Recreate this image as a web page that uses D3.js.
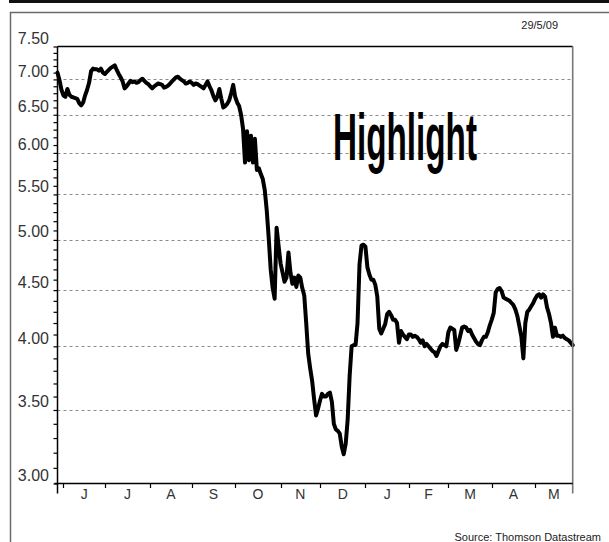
<!DOCTYPE html>
<html>
<head>
<meta charset="utf-8">
<script src="https://cdn.jsdelivr.net/npm/d3@7"></script>
<style>
  html, body { margin: 0; padding: 0; background: #fff; }
  svg { display: block; }
</style>
</head>
<body>
<svg id="chart" width="609" height="542"></svg>
<script>
// Share price, daily closes (weekdays), 29/5/08 - 29/5/09
const firstDay = '2008-05-29';
const lastDay = '2009-05-29';

const prices = [
  7.10, 6.99, 6.85, 6.77, 6.75, 6.86, 6.78, 6.75, 6.74, 6.73,
  6.72, 6.66, 6.63, 6.67, 6.77, 6.85, 6.95, 7.12, 7.16, 7.15,
  7.15, 7.13, 7.16, 7.10, 7.08, 7.11, 7.14, 7.17, 7.19, 7.21,
  7.14, 7.08, 7.03, 6.97, 6.87, 6.90, 6.94, 6.98, 6.96, 6.97,
  6.95, 6.96, 6.99, 7.01, 6.98, 6.95, 6.93, 6.90, 6.87, 6.90,
  6.92, 6.94, 6.93, 6.92, 6.88, 6.89, 6.91, 6.94, 6.97, 7.00,
  7.03, 7.04, 7.01, 6.99, 6.97, 6.94, 6.95, 6.97, 6.95, 6.92,
  6.94, 6.93, 6.91, 6.89, 6.87, 6.92, 6.97, 6.90, 6.84, 6.76,
  6.70, 6.75, 6.86, 6.72, 6.60, 6.62, 6.65, 6.70, 6.80, 6.92,
  6.75, 6.67, 6.62, 6.50, 6.31, 5.88, 6.28, 5.91, 6.22, 5.88,
  6.18, 5.79, 5.81, 5.74, 5.68, 5.55, 5.32, 5.02, 4.70, 4.52,
  4.42, 5.13, 4.94, 4.76, 4.67, 4.58, 4.62, 4.87, 4.67, 4.56,
  4.62, 4.53, 4.64, 4.62, 4.52, 4.45, 4.20, 3.94, 3.82, 3.72,
  3.58, 3.46, 3.51, 3.57, 3.62, 3.60, 3.60, 3.62, 3.63, 3.56,
  3.40, 3.36, 3.35, 3.33, 3.24, 3.19, 3.26, 3.43, 3.76, 4.00,
  4.01, 4.01, 4.20, 4.75, 4.94, 4.95, 4.93, 4.72, 4.65, 4.60,
  4.60, 4.55, 4.44, 4.15, 4.11, 4.15, 4.19, 4.28, 4.30, 4.27,
  4.23, 4.23, 4.20, 4.03, 4.13, 4.10, 4.08, 4.06, 4.10, 4.10,
  4.08, 4.09, 4.08, 4.06, 4.03, 4.05, 4.00, 4.02, 4.00, 3.98,
  3.96, 3.95, 3.92, 3.96, 4.00, 4.02, 4.01, 4.00, 4.12, 4.16,
  4.15, 4.14, 3.97, 4.02, 4.09, 4.16, 4.17, 4.16, 4.13, 4.14,
  4.10, 4.07, 4.04, 4.02, 4.01, 4.05, 4.08, 4.08, 4.12, 4.18,
  4.23, 4.29, 4.48, 4.51, 4.52, 4.49, 4.43, 4.42, 4.41, 4.40,
  4.38, 4.36, 4.32, 4.26, 4.17, 4.08, 3.90, 4.20, 4.30, 4.32,
  4.35, 4.38, 4.42, 4.45, 4.46, 4.43, 4.46, 4.44, 4.34, 4.28,
  4.20, 4.08, 4.16, 4.09, 4.09, 4.08, 4.09, 4.07, 4.06, 4.05,
  4.03, 4.01
];

const yTickValues = [3.00, 3.50, 4.00, 4.50, 5.00, 5.50, 6.00, 6.50, 7.00, 7.50];
const gridValues = [3.50, 4.00, 4.50, 5.00, 5.50, 6.00, 6.50, 7.00];
const monthLabels = ['J', 'J', 'A', 'S', 'O', 'N', 'D', 'J', 'F', 'M', 'A', 'M'];
const dateStamp = '29/5/09';
const title = 'Highlight';
const sourceText = 'Source: Thomson Datastream';

const parse = d3.timeParse('%Y-%m-%d');
const isWeekday = d => d.getDay() !== 0 && d.getDay() !== 6;
// trading calendar (weekdays only), like the Datastream x axis
const tradingDays = d3.timeDay
  .range(parse(firstDay), d3.timeDay.offset(parse(lastDay), 1))
  .filter(isWeekday);
const series = prices.map((v, i) => ({idx: i, date: tradingDays[i], value: v}));

const svg = d3.select('#chart');
const plotL = 57.5, plotR = 572.7, plotT = 46.5, plotB = 483.5;

const x = d3.scaleLinear().domain([0, tradingDays.length - 1]).range([plotL, plotR]);
const y = d3.scaleLog().domain([3, 7.5]).range([plotB, plotT]);

// outer frame
svg.append('rect').attr('x', 9).attr('y', 0).attr('width', 600).attr('height', 3).attr('fill', '#111');
svg.append('path')
  .attr('d', 'M10.5,542V12.5H609')
  .attr('fill', 'none').attr('stroke', '#6a6a6a').attr('stroke-width', 1.5);

// grid
svg.append('g').selectAll('line').data(gridValues).join('line')
  .attr('x1', plotL).attr('x2', plotR)
  .attr('y1', d => Math.round(y(d)) + 0.5).attr('y2', d => Math.round(y(d)) + 0.5)
  .attr('stroke', '#8c8c8c').attr('stroke-width', 1).attr('stroke-dasharray', '3,3');

// "Highlight"
svg.append('text')
  .attr('x', 333).attr('y', 160)
  .attr('textLength', 144).attr('lengthAdjust', 'spacingAndGlyphs')
  .style('font-family', '"Liberation Sans Narrow", "Liberation Sans", Arial, sans-serif')
  .style('font-weight', 'bold').style('font-size', '66px')
  .attr('fill', '#000')
  .text(title);

// price line
const line = d3.line().x(d => x(d.idx)).y(d => y(d.value));
svg.append('path').datum(series)
  .attr('d', line)
  .attr('fill', 'none').attr('stroke', '#000')
  .attr('stroke-width', 4).attr('stroke-linejoin', 'round').attr('stroke-linecap', 'round');

// plot border
svg.append('line').attr('x1', plotL).attr('x2', plotR).attr('y1', plotT).attr('y2', plotT)
  .attr('stroke', '#000').attr('stroke-width', 1.3);
svg.append('line').attr('x1', plotR).attr('x2', plotR).attr('y1', plotT).attr('y2', plotB + 10)
  .attr('stroke', '#777').attr('stroke-width', 1.6);

// y axis with 0.1 minor ticks
const yAxis = d3.axisLeft(y)
  .tickValues(d3.range(30, 76).map(v => v / 10))
  .tickSize(4).tickFormat('');
const gy = svg.append('g').attr('transform', `translate(${plotL},0)`).call(yAxis);
gy.select('.domain').remove();
gy.selectAll('line').attr('stroke', '#000').attr('stroke-width', 1.2);
svg.append('line').attr('x1', plotL).attr('x2', plotL).attr('y1', plotT).attr('y2', plotB + 10)
  .attr('stroke', '#000').attr('stroke-width', 1.5);

svg.append('g').selectAll('text').data(yTickValues).join('text')
  .attr('x', 49).attr('y', d => y(d) - 2.5)
  .attr('text-anchor', 'end')
  .style('font-family', '"Liberation Sans", Arial, sans-serif').style('font-size', '16px')
  .attr('fill', '#333')
  .text(d => d3.format('.2f')(d));

// x axis: month starts on the trading calendar
const monthStarts = d3.timeMonth.range(new Date(2008, 5, 1), new Date(2009, 5, 1))
  .map(m => tradingDays.findIndex(d => d >= m));
const tickX = monthStarts.map(i => x(i + 1));
svg.append('line').attr('x1', plotL - 3).attr('x2', plotR).attr('y1', plotB).attr('y2', plotB)
  .attr('stroke', '#000').attr('stroke-width', 1.5);
svg.append('g').selectAll('line').data(tickX).join('line')
  .attr('x1', d => Math.round(d) + 0.5).attr('x2', d => Math.round(d) + 0.5)
  .attr('y1', plotB).attr('y2', plotB + 4.5)
  .attr('stroke', '#000').attr('stroke-width', 1.2);
svg.append('g').selectAll('text').data(monthLabels).join('text')
  .attr('x', (d, i) => (tickX[i] + (i + 1 < tickX.length ? tickX[i + 1] : plotR)) / 2)
  .attr('y', 499)
  .attr('text-anchor', 'middle')
  .style('font-family', '"Liberation Sans", Arial, sans-serif').style('font-size', '14px')
  .attr('fill', '#333')
  .text(d => d);

// stamps
svg.append('text').attr('x', 558).attr('y', 28.5).attr('text-anchor', 'end')
  .style('font-family', '"Liberation Sans", Arial, sans-serif').style('font-size', '11px')
  .attr('fill', '#222').text(dateStamp);
svg.append('text').attr('x', 601).attr('y', 541).attr('text-anchor', 'end')
  .style('font-family', '"Liberation Sans Narrow", "Liberation Sans", Arial, sans-serif').style('font-size', '11px')
  .attr('fill', '#222').text(sourceText);
</script>
</body>
</html>
